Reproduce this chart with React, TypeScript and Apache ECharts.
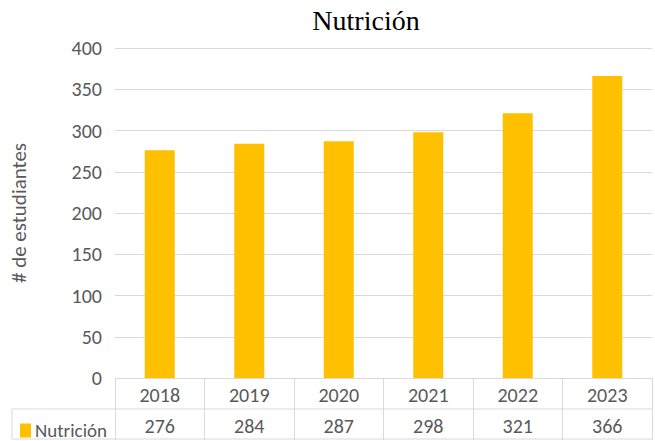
import React, { useEffect, useRef } from "react";
import * as echarts from "echarts";

const categories = ["2018", "2019", "2020", "2021", "2022", "2023"];
const values = [276, 284, 287, 298, 321, 366];
const seriesName = "Nutrición";
const yTicks = { min: 0, max: 400, interval: 50 };

const FONT = "Carlito, Lato, sans-serif";
const GRAY = "#595959";
const LINE = "#d9d9d9";

export default function App() {
  const ref = useRef<HTMLDivElement>(null);
  useEffect(() => {
    const chart = echarts.init(ref.current!, null, { renderer: "svg" });
    const left = 112, right = 3, top = 48, bottom = 63;
    const W = 655, H = 441;
    const axisY = H - bottom;
    chart.setOption({
      animation: false,
      title: {
        text: "Nutrición",
        left: 361,
        top: 1,
        textAlign: "center",
        textStyle: { fontFamily: "Liberation Serif, serif", fontSize: 28, fontWeight: "normal", color: "#000" },
      },
      legend: {
        left: 15,
        top: axisY + 38,
        itemWidth: 11,
        itemHeight: 14,
        itemGap: 4,
        icon: "rect",
        textStyle: { fontFamily: FONT, fontSize: 19, color: GRAY, padding: [0, 0, 0, -1] },
        data: [seriesName],
      },
      grid: { left, right, top, bottom },
      xAxis: [
        {
          type: "category",
          data: categories,
          axisLine: { show: true, lineStyle: { color: LINE } },
          axisTick: { show: true, length: 62, lineStyle: { color: LINE } },
          axisLabel: { fontFamily: FONT, fontSize: 20, color: GRAY, margin: 7 },
        },
        {
          type: "category",
          position: "bottom",
          offset: 31,
          data: values.map(String),
          axisLine: { show: false },
          axisTick: { show: false },
          axisLabel: { fontFamily: FONT, fontSize: 20, color: GRAY, margin: 7 },
        },
      ],
      yAxis: {
        type: "value",
        min: yTicks.min,
        max: yTicks.max,
        interval: yTicks.interval,
        name: "# de estudiantes",
        nameLocation: "middle",
        nameGap: 86,
        nameTextStyle: { fontFamily: FONT, fontSize: 21, color: GRAY },
        axisLine: { show: false },
        axisTick: { show: false },
        axisLabel: { fontFamily: FONT, fontSize: 20, color: GRAY, margin: 13 },
        splitLine: { lineStyle: { color: LINE } },
      },
      series: [
        {
          name: seriesName,
          type: "bar",
          xAxisIndex: 0,
          data: values,
          barWidth: 30,
          itemStyle: { color: "#FFC000" },
        },
      ],
      graphic: [
        { type: "line", shape: { x1: 12, y1: axisY + 31, x2: W - right, y2: axisY + 31 }, style: { stroke: LINE, lineWidth: 1 } },
        { type: "line", shape: { x1: 12, y1: axisY + 61, x2: W - right, y2: axisY + 61 }, style: { stroke: LINE, lineWidth: 1 } },
        { type: "line", shape: { x1: 12, y1: axisY + 31, x2: 12, y2: axisY + 61 }, style: { stroke: LINE, lineWidth: 1 } },
      ],
    });
    return () => chart.dispose();
  }, []);
  return <div ref={ref} style={{ width: 655, height: 441, position: "absolute", left: 0, top: 0 }} />;
}
